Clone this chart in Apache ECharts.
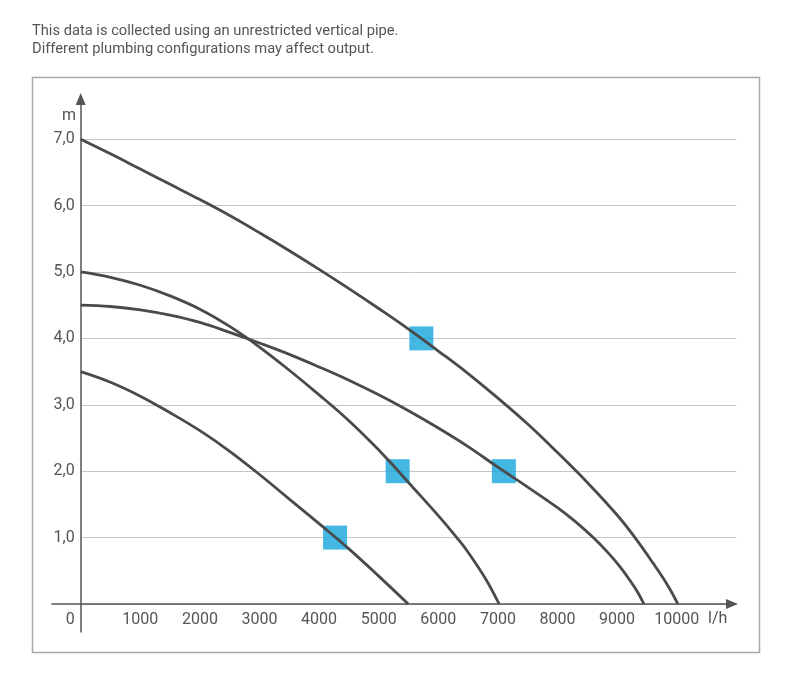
<!DOCTYPE html>
<html>
<head>
<meta charset="utf-8">
<script src="https://cdn.jsdelivr.net/npm/echarts@6/dist/echarts.min.js"></script>
<style>html,body{margin:0;padding:0;background:#fff;}#c{width:800px;height:686px;}</style>
</head>
<body>
<div id="c"></div>
<script>
// ---- data (flow l/h, head m) ----
const noteLines = ['This data is collected using an unrestricted vertical pipe.', 'Different plumbing configurations may affect output.'];
const xUnit = 'l/h';
const yUnit = 'm';
const curveA = [[0,7.0],[500,6.78],[1000,6.55],[1500,6.32],[2000,6.09],[2500,5.85],[3000,5.59],[3500,5.32],[4000,5.04],[4500,4.75],[5000,4.45],[5500,4.14],[6000,3.81],[6500,3.47],[7000,3.1],[7500,2.71],[8000,2.28],[8500,1.83],[9000,1.34],[9300,1.0],[9600,0.62],[9850,0.28],[10020,0]];
const curveB = [[0,5.0],[500,4.92],[1000,4.8],[1500,4.64],[2000,4.44],[2500,4.18],[3000,3.87],[3500,3.52],[4000,3.15],[4500,2.76],[5000,2.32],[5300,2.03],[5500,1.83],[6000,1.33],[6310,1.0],[6500,0.78],[6800,0.37],[7020,0]];
const curveC = [[0,4.5],[500,4.48],[1000,4.43],[1500,4.35],[2000,4.24],[2500,4.09],[3000,3.93],[3500,3.76],[4000,3.57],[4500,3.37],[5000,3.15],[5500,2.91],[6000,2.65],[6500,2.37],[7000,2.06],[7500,1.76],[8000,1.45],[8300,1.24],[8600,1.0],[8850,0.77],[9050,0.56],[9220,0.35],[9350,0.17],[9450,0]];
const curveD = [[0,3.5],[500,3.34],[1000,3.13],[1500,2.88],[2000,2.61],[2500,2.3],[3000,1.95],[3500,1.58],[4000,1.21],[4500,0.83],[5000,0.42],[5495,0]];
const dutyPoints = [[5716,4.0],[5318,2.0],[7100,2.0],[4268,1.0]];

const FONT = 'Roboto, "Liberation Sans", sans-serif';
const TXT = '#555';
const chart = echarts.init(document.getElementById('c'), null, {renderer: 'canvas'});

function lineSeries(d) {
  return {type: 'line', xAxisIndex: 0, yAxisIndex: 0, data: d, smooth: 0.4, showSymbol: false, symbol: 'none',
    lineStyle: {color: '#4a4a4c', width: 2.8}, z: 3, silent: true, animation: false};
}

chart.setOption({
  animation: false,
  backgroundColor: '#fff',
  grid: [
    {left: 80.7, top: 92.7, width: 655.6, height: 511.3},
    {left: 52, top: 99, width: 680, height: 533}
  ],
  xAxis: [
    {type: 'value', gridIndex: 0, min: 0, max: 11000, interval: 1000,
      axisLine: {show: false}, axisTick: {show: false}, splitLine: {show: false},
      axisLabel: {show: true, showMaxLabel: false, margin: 8, color: TXT, fontFamily: FONT, fontSize: 16,
        formatter: function (v) { return v === 0 ? '{z|0}' : (v > 10000 ? '' : String(v)); },
        rich: {z: {padding: [0, 21, 0, 0], fontFamily: FONT, fontSize: 16, color: TXT}}}},
    {type: 'value', gridIndex: 1, min: -481.5, max: 10928,
      axisLine: {show: true, onZero: true, symbol: ['none', 'triangle'], symbolSize: [10, 12], symbolOffset: [0, 0],
        lineStyle: {color: '#555', width: 1.5}},
      axisTick: {show: false}, axisLabel: {show: false}, splitLine: {show: false}}
  ],
  yAxis: [
    {type: 'value', gridIndex: 0, min: 0, max: 7.7, interval: 1,
      axisLine: {show: false}, axisTick: {show: false},
      splitLine: {show: true, lineStyle: {width: 1, color: ['#c6c6c6','#c6c6c6','#c6c6c6','#c6c6c6','#c6c6c6','#c6c6c6','#c6c6c6','#c6c6c6','rgba(0,0,0,0)']}},
      axisLabel: {show: true, showMaxLabel: false, margin: 6, color: TXT, fontFamily: FONT, fontSize: 16,
        formatter: function (v) { return (v === 0 || v % 1 !== 0) ? '' : v.toFixed(1).replace('.', ','); }}},
    {type: 'value', gridIndex: 1, min: -0.4217, max: 7.605,
      axisLine: {show: true, onZero: true, symbol: ['none', 'triangle'], symbolSize: [10, 12], symbolOffset: [0, 0],
        lineStyle: {color: '#555', width: 1.5}},
      axisTick: {show: false}, axisLabel: {show: false}, splitLine: {show: false}}
  ],
  graphic: [
    {type: 'rect', silent: true, z: 0, shape: {x: 32.5, y: 77.5, width: 727, height: 575},
      style: {fill: 'none', stroke: '#a8a8a8', lineWidth: 1.5}},
    {type: 'text', left: 32, top: 24, silent: true,
      style: {text: noteLines[0], fill: TXT, font: '14.7px ' + FONT}},
    {type: 'text', left: 32, top: 42, silent: true,
      style: {text: noteLines[1], fill: TXT, font: '14.7px ' + FONT}},
    {type: 'text', left: 62, top: 108, silent: true,
      style: {text: yUnit, fill: TXT, font: '16px ' + FONT}},
    {type: 'text', left: 708, top: 611, silent: true,
      style: {text: xUnit, fill: TXT, font: '16px ' + FONT}}
  ],
  series: [
    {type: 'scatter', xAxisIndex: 0, yAxisIndex: 0, data: dutyPoints, symbol: 'rect', symbolSize: 24,
      itemStyle: {color: '#17a5dc'}, z: 2, silent: true},
    lineSeries(curveA), lineSeries(curveB), lineSeries(curveC), lineSeries(curveD)
  ]
});
</script>
</body>
</html>
